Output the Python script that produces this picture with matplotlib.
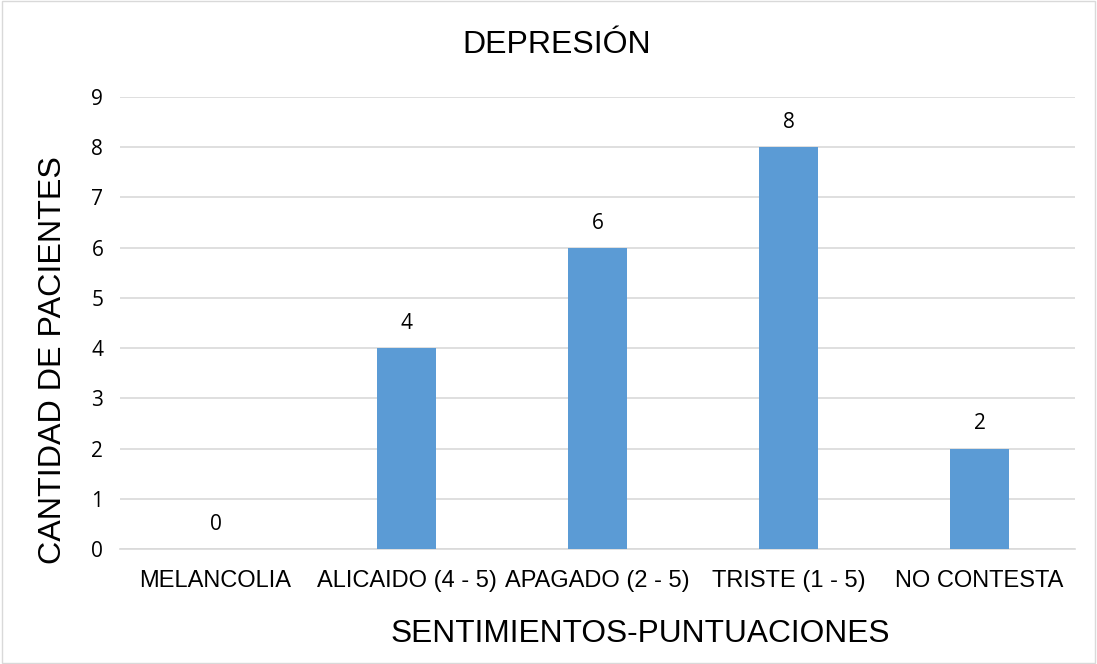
import matplotlib
matplotlib.use("Agg")
import matplotlib.pyplot as plt
from matplotlib.patches import Rectangle

categories = ["MELANCOLIA", "ALICAIDO (4 - 5)", "APAGADO (2 - 5)", "TRISTE (1 - 5)", "NO CONTESTA"]
values = [0, 4, 6, 8, 2]
yticks = list(range(0, 10))

plt.rcParams['font.family'] = ['Liberation Sans', 'DejaVu Sans']

fig = plt.figure(figsize=(10.97, 6.64), dpi=100)
ax = fig.add_axes([120/1097, 1-549/664, (1075-120)/1097, (549-97)/664])

x = list(range(len(categories)))
ax.bar(x, values, width=0.31, color="#5B9BD5", zorder=3)
for xi, v in zip(x, values):
    ax.text(xi, v + 0.28, str(v), ha="center", va="bottom", fontsize=15,
            family=["Open Sans", "DejaVu Sans"], color="#000000")

ax.set_xlim(-0.5, len(categories) - 0.5)
ax.set_ylim(0, 9)
ax.set_yticks(yticks)
ax.set_yticklabels([str(t) for t in yticks], family=["Open Sans", "DejaVu Sans"], fontsize=15)
ax.set_xticks(x)
ax.set_xticklabels(categories, fontsize=17)
ax.tick_params(axis='y', length=0, pad=12)
ax.tick_params(axis='x', length=0, pad=15)
ax.grid(axis='y', color="#D9D9D9", linewidth=1.2, zorder=0)
for s in ["top", "right", "left"]:
    ax.spines[s].set_visible(False)
ax.spines["bottom"].set_color("#D9D9D9")
ax.spines["bottom"].set_linewidth(1.2)

fig.text(557/1097, 1-45/664, "DEPRESIÓN", ha="center", va="center", fontsize=23)
fig.text(53/1097, 1-360/664, "CANTIDAD DE PACIENTES", ha="center", va="center", rotation=90, fontsize=23.2)
fig.text(640/1097, 1-634/664, "SENTIMIENTOS-PUNTUACIONES", ha="center", va="center", fontsize=22.8)

fig.patches.append(Rectangle((0.002, 0.002), 0.996, 0.996, transform=fig.transFigure,
                             fill=False, edgecolor="#D9D9D9", linewidth=1))

fig.savefig("out.png", dpi=100)
